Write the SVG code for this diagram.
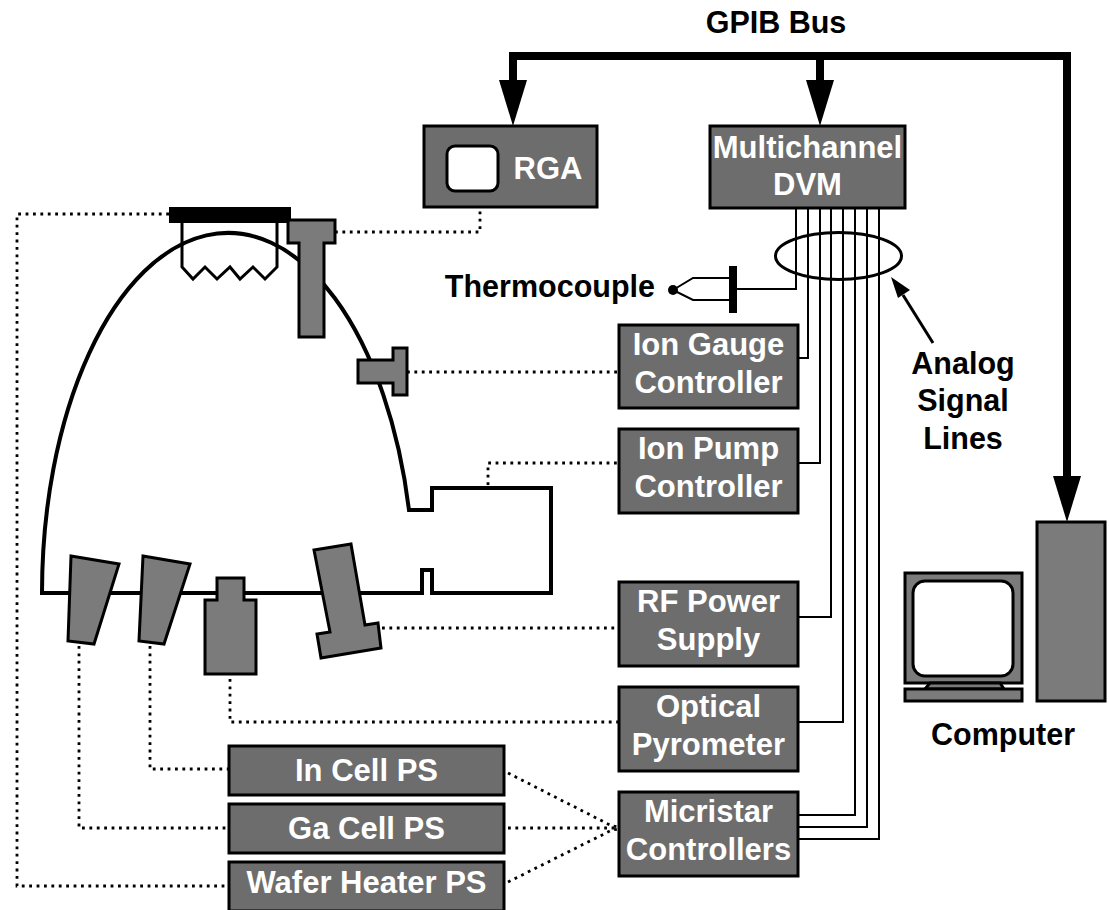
<svg xmlns="http://www.w3.org/2000/svg" width="1109" height="910" viewBox="0 0 1109 910">
  <defs>
    <style>
      .box { fill: #6d6d6d; stroke: #000; stroke-width: 3; }
      .part { fill: #7b7b7b; stroke: #000; stroke-width: 3; stroke-linejoin: miter; }
      .btxt { font-family: "Liberation Sans", Arial, sans-serif; font-weight: bold; font-size: 31px; fill: #fff; text-anchor: middle; }
      .lbl { font-family: "Liberation Sans", Arial, sans-serif; font-weight: bold; font-size: 30.5px; fill: #000; text-anchor: middle; }
      .wall { fill: none; stroke: #000; stroke-width: 4; stroke-linejoin: miter; }
      .dot { fill: none; stroke: #000; stroke-width: 2.8; stroke-dasharray: 2.8 4.6; }
      .sig { fill: none; stroke: #000; stroke-width: 2; }
      .bus { fill: none; stroke: #000; stroke-width: 8; }
      .head { fill: #000; }
    </style>
  </defs>

  <rect width="1109" height="910" fill="#fff"/>

  <!-- vacuum chamber outline -->
  <g id="chamber">
    <path class="wall" d="M42,593 A186,360 0 0 1 409,510 L432,510 L432,488 L551,488 L551,593 L432,593 L432,570 L422,570 L422,593 Z"/>
    <!-- wafer holder and heater -->
    <rect x="169" y="207" width="122" height="16" fill="#000"/>
    <path d="M182,223 L182,267 L193,279 L205,267 L217,279 L230,267 L240,279 L253,267 L265,279 L277,267 L277,223" fill="none" stroke="#000" stroke-width="3" stroke-linejoin="miter"/>
    <!-- RGA head -->
    <path class="part" d="M288,220 L335,220 L335,243 L324,243 L324,337 L299,337 L299,243 L288,243 Z"/>
    <!-- ion gauge -->
    <path class="part" d="M393,348 L407,348 L407,395 L393,395 L393,383 L358,383 L358,360 L393,360 Z"/>
    <!-- effusion cells -->
    <polygon class="part" points="71,556 119,564 94,644 68,641"/>
    <polygon class="part" points="143,556 190,564 164,644 139,641"/>
    <!-- pyrometer port -->
    <path class="part" d="M217,578 L244,578 L244,600 L256,600 L256,674 L205,674 L205,600 L217,600 Z"/>
    <!-- RF plasma source -->
    <polygon class="part" points="314,550 351,544 365,625 378,623 381,648 321,658 317,634 330,632"/>
  </g>

  <!-- instrument boxes -->
  <g id="rga">
    <rect class="box" x="424" y="126" width="173" height="81"/>
    <rect x="447" y="146" width="51" height="45" rx="8" fill="#fff" stroke="#000" stroke-width="3"/>
    <text class="btxt" x="548" y="179">RGA</text>
  </g>
  <g id="dvm">
    <rect class="box" x="710" y="126" width="195" height="82"/>
    <text class="btxt" x="807.5" y="158">Multichannel</text>
    <text class="btxt" x="807.5" y="195">DVM</text>
  </g>
  <g id="ion-gauge">
    <rect class="box" x="619" y="325" width="179" height="83"/>
    <text class="btxt" x="708.5" y="355">Ion Gauge</text>
    <text class="btxt" x="708.5" y="393">Controller</text>
  </g>
  <g id="ion-pump">
    <rect class="box" x="619" y="429" width="179" height="84"/>
    <text class="btxt" x="708.5" y="459">Ion Pump</text>
    <text class="btxt" x="708.5" y="497">Controller</text>
  </g>
  <g id="rf-power">
    <rect class="box" x="619" y="582" width="179" height="84"/>
    <text class="btxt" x="708.5" y="612">RF Power</text>
    <text class="btxt" x="708.5" y="650">Supply</text>
  </g>
  <g id="pyrometer">
    <rect class="box" x="619" y="687" width="179" height="84"/>
    <text class="btxt" x="708.5" y="717">Optical</text>
    <text class="btxt" x="708.5" y="755">Pyrometer</text>
  </g>
  <g id="micristar">
    <rect class="box" x="619" y="792" width="179" height="84"/>
    <text class="btxt" x="708.5" y="822">Micristar</text>
    <text class="btxt" x="708.5" y="860">Controllers</text>
  </g>
  <g id="in-cell-ps">
    <rect class="box" x="229" y="746" width="275" height="49"/>
    <text class="btxt" x="366.5" y="781">In Cell PS</text>
  </g>
  <g id="ga-cell-ps">
    <rect class="box" x="229" y="804" width="275" height="49"/>
    <text class="btxt" x="366.5" y="839">Ga Cell PS</text>
  </g>
  <g id="wafer-heater-ps">
    <rect class="box" x="229" y="862" width="275" height="49"/>
    <text class="btxt" x="366.5" y="893">Wafer Heater PS</text>
  </g>

  <!-- thermocouple probe -->
  <g id="thermocouple">
    <circle cx="673" cy="290" r="5" fill="#000"/>
    <path d="M673,290 L693,278 L730,278 M673,290 L693,300 L730,300" fill="none" stroke="#000" stroke-width="2"/>
    <rect x="729" y="266" width="8" height="47" fill="#000"/>
    <text class="lbl" x="655" y="297" style="text-anchor:end">Thermocouple</text>
  </g>

  <!-- computer -->
  <g id="computer">
    <rect class="part" x="905" y="573" width="117" height="110"/>
    <rect x="913" y="581" width="100" height="95" rx="12" fill="#fff" stroke="#000" stroke-width="3"/>
    <polygon class="part" points="930,683 1000,683 1004,689 925,689"/>
    <rect class="part" x="905" y="689" width="117" height="12"/>
    <rect class="part" x="1037" y="522" width="68" height="179"/>
    <text class="lbl" x="1003" y="745">Computer</text>
  </g>

  <!-- connectors -->
  <g id="connectors">
    <!-- GPIB bus -->
    <path class="bus" d="M513,84 L513,56 L1067,56 L1067,480" stroke-linejoin="miter"/>
    <path class="bus" d="M820,56 L820,84"/>
    <polygon class="head" points="499,80 527,80 513,126"/>
    <polygon class="head" points="806,80 834,80 820,126"/>
    <polygon class="head" points="1053,476 1081,476 1067,522"/>

    <!-- analog signal lines into the DVM -->
    <path class="sig" d="M796,208 L796,289 L737,289"/>
    <path class="sig" d="M808,208 L808,358 L798,358"/>
    <path class="sig" d="M820,208 L820,463 L798,463"/>
    <path class="sig" d="M831,208 L831,617 L798,617"/>
    <path class="sig" d="M843,208 L843,722 L798,722"/>
    <path class="sig" d="M855,208 L855,815 L798,815"/>
    <path class="sig" d="M867,208 L867,827 L798,827"/>
    <path class="sig" d="M879,208 L879,839 L798,839"/>
    <ellipse cx="838.5" cy="256" rx="63" ry="23.5" fill="none" stroke="#000" stroke-width="3"/>
    <path d="M933,343 L903,295" stroke="#000" stroke-width="3" fill="none"/>
    <polygon class="head" points="891,277 910,290 898,298"/>

    <!-- dotted control/sense links -->
    <path class="dot" d="M335,232 L480,232 L480,208"/>
    <path class="dot" d="M169,214 L17,214 L17,886 L229,886"/>
    <path class="dot" d="M407,372 L619,372"/>
    <path class="dot" d="M488,485 L488,463 L619,463"/>
    <path class="dot" d="M382,628 L619,628"/>
    <path class="dot" d="M230,679 L230,722 L619,722"/>
    <path class="dot" d="M150,646 L150,769 L229,769"/>
    <path class="dot" d="M79,646 L79,828 L229,828"/>
    <path class="dot" d="M508,773 L612,826 L619,827"/>
    <path class="dot" d="M508,828 L619,828"/>
    <path class="dot" d="M508,882 L612,830 L619,829"/>
  </g>

  <!-- free labels -->
  <g id="labels">
    <text class="lbl" x="776" y="33">GPIB Bus</text>
    <text class="lbl" x="963" y="374">Analog</text>
    <text class="lbl" x="963" y="411">Signal</text>
    <text class="lbl" x="963" y="449">Lines</text>
  </g>
</svg>
